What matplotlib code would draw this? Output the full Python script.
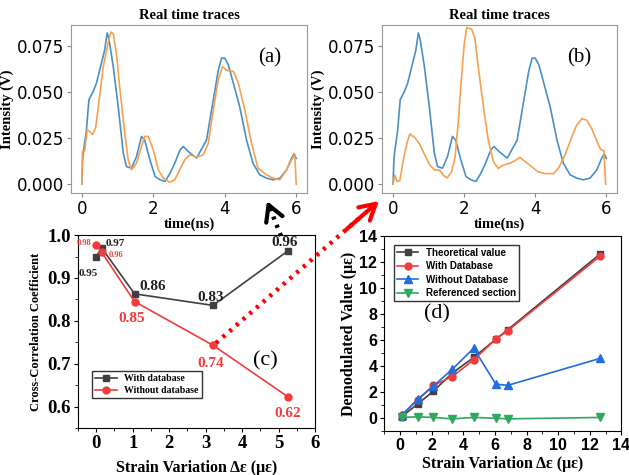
import matplotlib
matplotlib.use("Agg")
import matplotlib.pyplot as plt
from matplotlib.lines import Line2D
from matplotlib.patches import FancyArrowPatch
from matplotlib.ticker import MultipleLocator

# ---------------- data ----------------
# real time trace, reference (blue) - same in (a) and (b)
t_blue = [0.0, 0.02, 0.04, 0.13, 0.2, 0.32, 0.41, 0.5, 0.64, 0.71, 0.76, 0.88, 1.02, 1.16, 1.25,
          1.39, 1.53, 1.67, 1.76, 1.9, 2.05, 2.19, 2.33, 2.47, 2.6, 2.75, 2.84, 2.98, 3.21, 3.49,
          3.68, 3.82, 3.91, 4.0, 4.1, 4.24, 4.42, 4.61, 4.79, 4.98, 5.17, 5.35, 5.54, 5.73, 5.87,
          5.94, 6.0]
v_blue = [0.0, 0.012, 0.017, 0.0296, 0.046, 0.0505, 0.055, 0.062, 0.073, 0.0823, 0.079, 0.064,
          0.042, 0.017, 0.0096, 0.0087, 0.015, 0.026, 0.024, 0.0136, 0.0042, 0.0024, 0.0015,
          0.006, 0.0114, 0.0187, 0.0205, 0.0178, 0.0142, 0.024, 0.046, 0.062, 0.0686, 0.0686,
          0.065, 0.055, 0.042, 0.024, 0.0114, 0.0051, 0.0033, 0.0024, 0.0033, 0.0078, 0.0142,
          0.0165, 0.014]

# trace (a), orange - with database
t_orange_a = [0.0, 0.02, 0.08, 0.15, 0.22, 0.3, 0.39, 0.5, 0.6, 0.74, 0.81, 0.88, 0.97, 1.06,
              1.2, 1.3, 1.39, 1.53, 1.67, 1.76, 1.86, 2.0, 2.14, 2.28, 2.46, 2.6, 2.74, 2.88,
              3.02, 3.21, 3.4, 3.54, 3.68, 3.82, 3.94, 4.05, 4.24, 4.38, 4.56, 4.75, 4.93,
              5.17, 5.35, 5.54, 5.73, 5.87, 5.96, 6.0]
v_orange_a = [0.0, 0.018, 0.018, 0.0296, 0.0287, 0.027, 0.031, 0.048, 0.064, 0.077, 0.0828,
              0.082, 0.071, 0.053, 0.028, 0.013, 0.0078, 0.0114, 0.0205, 0.026, 0.026, 0.0187,
              0.0078, 0.0033, 0.0011, 0.0024, 0.0078, 0.0133, 0.016, 0.0147, 0.016, 0.0223,
              0.0405, 0.057, 0.064, 0.062, 0.0614, 0.055, 0.0405, 0.0223, 0.0087, 0.0051,
              0.0033, 0.0024, 0.0078, 0.0133, 0.016, 0.0]

# trace (b), orange - without database
t_orange_b = [0.0, 0.05, 0.11, 0.19, 0.28, 0.38, 0.47, 0.61, 0.75, 0.89, 1.03, 1.17, 1.31,
              1.41, 1.52, 1.64, 1.74, 1.83, 1.92, 2.0, 2.07, 2.21, 2.3, 2.39, 2.54, 2.68, 2.82,
              2.96, 3.1, 3.29, 3.47, 3.57, 3.71, 3.9, 4.08, 4.27, 4.51, 4.65, 4.84, 5.02, 5.16,
              5.31, 5.45, 5.59, 5.73, 5.84, 5.93, 5.98]
v_orange_b = [0.0, 0.0049, 0.0015, 0.002, 0.0123, 0.0217, 0.0273, 0.0254, 0.0217, 0.016,
              0.0105, 0.0077, 0.0077, 0.0049, 0.0034, 0.0067, 0.0142, 0.0329, 0.0572, 0.076,
              0.0853, 0.0843, 0.0797, 0.0647, 0.0423, 0.0236, 0.0123, 0.0086, 0.0105, 0.0114,
              0.0133, 0.0146, 0.0123, 0.0095, 0.0067, 0.0058, 0.0058, 0.0086, 0.0161, 0.0254,
              0.032, 0.0357, 0.0348, 0.0301, 0.0236, 0.0189, 0.0183, 0.0]

# (c) cross-correlation coefficient
strain_c = [0.0, 0.15, 1.05, 3.2, 5.25]
cc_with = [0.95, 0.97, 0.863, 0.836, 0.963]
cc_without = [0.978, 0.96, 0.845, 0.743, 0.623]
lbl_with = ["0.95", "0.97", "0.86", "0.83", "0.96"]
lbl_without = ["0.98", "0.96", "0.85", "0.74", "0.62"]

# (d) demodulated value
strain_d = [0.1, 1.1, 2.1, 3.3, 4.65, 6.05, 6.8, 12.65]
theory = [0.1, 1.05, 2.05, 3.45, 4.65, 6.05, 6.78, 12.62]
with_db = [0.2, 1.37, 2.5, 3.18, 4.46, 6.06, 6.7, 12.45]
without_db = [0.2, 1.42, 2.45, 3.74, 5.36, 2.6, 2.5, 4.58]
ref_section = [0.03, 0.08, 0.03, -0.08, 0.03, -0.03, -0.08, 0.03]

SERIF = "Liberation Serif"
SANS = "Liberation Sans"
BLUE = "#4a90c8"
ORANGE = "#f7a050"

fig = plt.figure(figsize=(6.29, 4.75), dpi=100)


def trace_panel(rect, t_o, v_o, tag):
    ax = fig.add_axes(rect)
    ax.plot(t_blue, v_blue, color=BLUE, lw=1.2)
    ax.plot(t_o, v_o, color=ORANGE, lw=1.2)
    ax.set_xlim(-0.3, 6.3)
    ax.set_ylim(-0.0047, 0.0868)
    ax.set_xticks([0, 2, 4, 6])
    ax.set_yticks([0.0, 0.025, 0.05, 0.075])
    ax.tick_params(labelsize=12, length=3, color="#888888", pad=2)
    for s in ax.spines.values():
        s.set_color("#999999")
    ax.set_title("Real time traces", family=SERIF, weight="bold", fontsize=10.5, pad=4)
    ax.set_xlabel("time(ns)", family=SERIF, weight="bold", fontsize=10.5, labelpad=0)
    ax.set_ylabel("Intensity (V)", family=SERIF, weight="bold", fontsize=10.5, labelpad=2)
    ax.text(0.84, 0.8, tag, transform=ax.transAxes, family=SERIF, fontsize=15,
            ha="center", va="center")
    return ax


ax_a = trace_panel([0.113, 0.594, 0.375, 0.354], t_orange_a, v_orange_a, "(a)")
ax_b = trace_panel([0.608, 0.594, 0.373, 0.354], t_orange_b, v_orange_b, "(b)")

# ---------------- (c) ----------------
ax_c = fig.add_axes([0.124, 0.099, 0.377, 0.406])
ax_c.plot(strain_c, cc_with, color="#404040", marker="s", ms=5, lw=1.2, label="With database")
ax_c.plot(strain_c, cc_without, color="#f03c3c", marker="o", ms=5, lw=1.2,
          label="Without database")
ax_c.set_xlim(-0.5, 6)
ax_c.set_ylim(0.55, 1.0)
ax_c.xaxis.set_major_locator(MultipleLocator(1))
ax_c.xaxis.set_minor_locator(MultipleLocator(0.5))
ax_c.yaxis.set_major_locator(MultipleLocator(0.1))
ax_c.yaxis.set_minor_locator(MultipleLocator(0.05))
ax_c.tick_params(which="major", length=3, labelsize=13.5, pad=2)
ax_c.tick_params(which="minor", length=2)
for lab in ax_c.get_xticklabels() + ax_c.get_yticklabels():
    lab.set_family(SERIF)
    lab.set_weight("bold")
ax_c.set_xlabel("Strain Variation Δε (με)", family=SERIF, weight="bold", fontsize=11.5,
                labelpad=6)
ax_c.set_ylabel("Cross-Correlation Coefficient", family=SERIF, weight="bold", fontsize=9,
                labelpad=4)

# value labels (offsets in points)
off_with = [(-6, -12), (10, 3), (13, 5), (-2, 6), (-2, 6)]
size_with = [8, 8, 11, 11, 11]
for x, y, s, o, fs in zip(strain_c, cc_with, lbl_with, off_with, size_with):
    ax_c.annotate(s, (x, y), xytext=o, textcoords="offset points", ha="center",
                  va="center", family=SERIF, weight="bold", fontsize=fs, color="#202020")
off_without = [(-9, 1), (10, -2), (-2, -12), (-2, -13), (0, -12)]
size_without = [6, 6, 11, 11, 11]
for x, y, s, o, fs in zip(strain_c, cc_without, lbl_without, off_without, size_without):
    ax_c.annotate(s, (x, y), xytext=o, textcoords="offset points", ha="center",
                  va="center", family=SERIF, weight="bold", fontsize=fs, color="#f03c3c")
ax_c.text(0.79, 0.35, "(c)", transform=ax_c.transAxes, family=SERIF, fontsize=16,
          ha="center", va="center")
ax_c.legend(loc="lower left", bbox_to_anchor=(0.04, 0.13), prop={"family": SERIF,
            "weight": "bold", "size": 7}, frameon=True, fancybox=False, edgecolor="black",
            borderpad=0.3, handlelength=2.2, labelspacing=0.3)

# ---------------- (d) ----------------
ax_d = fig.add_axes([0.611, 0.093, 0.377, 0.410])
ax_d.plot(strain_d, theory, color="#404040", marker="s", ms=5, lw=1.2,
          label="Theoretical value")
ax_d.plot(strain_d, with_db, color="#f03c3c", marker="o", ms=5, lw=1.2, label="With Database")
ax_d.plot(strain_d, without_db, color="#1f6fe0", marker="^", ms=6, lw=1.2,
          label="Without Database")
ax_d.plot(strain_d, ref_section, color="#2fa860", marker="v", ms=6, lw=1.2,
          label="Referenced section")
ax_d.set_xlim(-1, 14)
ax_d.set_ylim(-1, 14)
ax_d.xaxis.set_major_locator(MultipleLocator(2))
ax_d.xaxis.set_minor_locator(MultipleLocator(1))
ax_d.yaxis.set_major_locator(MultipleLocator(2))
ax_d.yaxis.set_minor_locator(MultipleLocator(1))
ax_d.tick_params(which="major", length=3, labelsize=11.5, pad=2)
ax_d.tick_params(which="minor", length=2)
for lab in ax_d.get_xticklabels() + ax_d.get_yticklabels():
    lab.set_family(SANS)
    lab.set_weight("bold")
ax_d.set_xlabel("Strain Variation Δε (με)", family=SERIF, weight="bold", fontsize=11.5,
                labelpad=2)
ax_d.set_ylabel("Demodulated Value (με)", family=SERIF, weight="bold", fontsize=11.5,
                labelpad=2)
ax_d.text(0.22, 0.6, "(d)", transform=ax_d.transAxes, family=SERIF, fontsize=16,
          ha="center", va="center")
ax_d.legend(loc="upper left", bbox_to_anchor=(0.02, 0.98), prop={"family": SANS,
            "weight": "bold", "size": 7}, frameon=True, fancybox=False, edgecolor="black",
            borderpad=0.3, handlelength=2.2, labelspacing=0.35)


# ---------------- dotted arrows between panels ----------------
def fig_xy(px, py):
    return (px / 629, 1 - py / 475)


def dotted_arrow(p0, p1, color):
    (x0, y0), (x1, y1) = fig_xy(*p0), fig_xy(*p1)
    # dotted shaft stops a little before the tip
    xs, ys = x0 + 0.9 * (x1 - x0), y0 + 0.9 * (y1 - y0)
    fig.add_artist(Line2D([x0, xs], [y0, ys], transform=fig.transFigure, color=color,
                          lw=3.2, linestyle=(0, (0.7, 1.3))))
    # solid open head
    xh, yh = x0 + 0.8 * (x1 - x0), y0 + 0.8 * (y1 - y0)
    fig.add_artist(FancyArrowPatch((xh, yh), (x1, y1), transform=fig.transFigure,
                                   arrowstyle="->,head_length=0.8,head_width=0.45",
                                   mutation_scale=14, color=color, lw=3,
                                   shrinkA=0, shrinkB=0))


dotted_arrow((281, 236), (267, 201), "black")
dotted_arrow((216, 343), (379, 201), "red")

fig.savefig("out.png", dpi=100)
